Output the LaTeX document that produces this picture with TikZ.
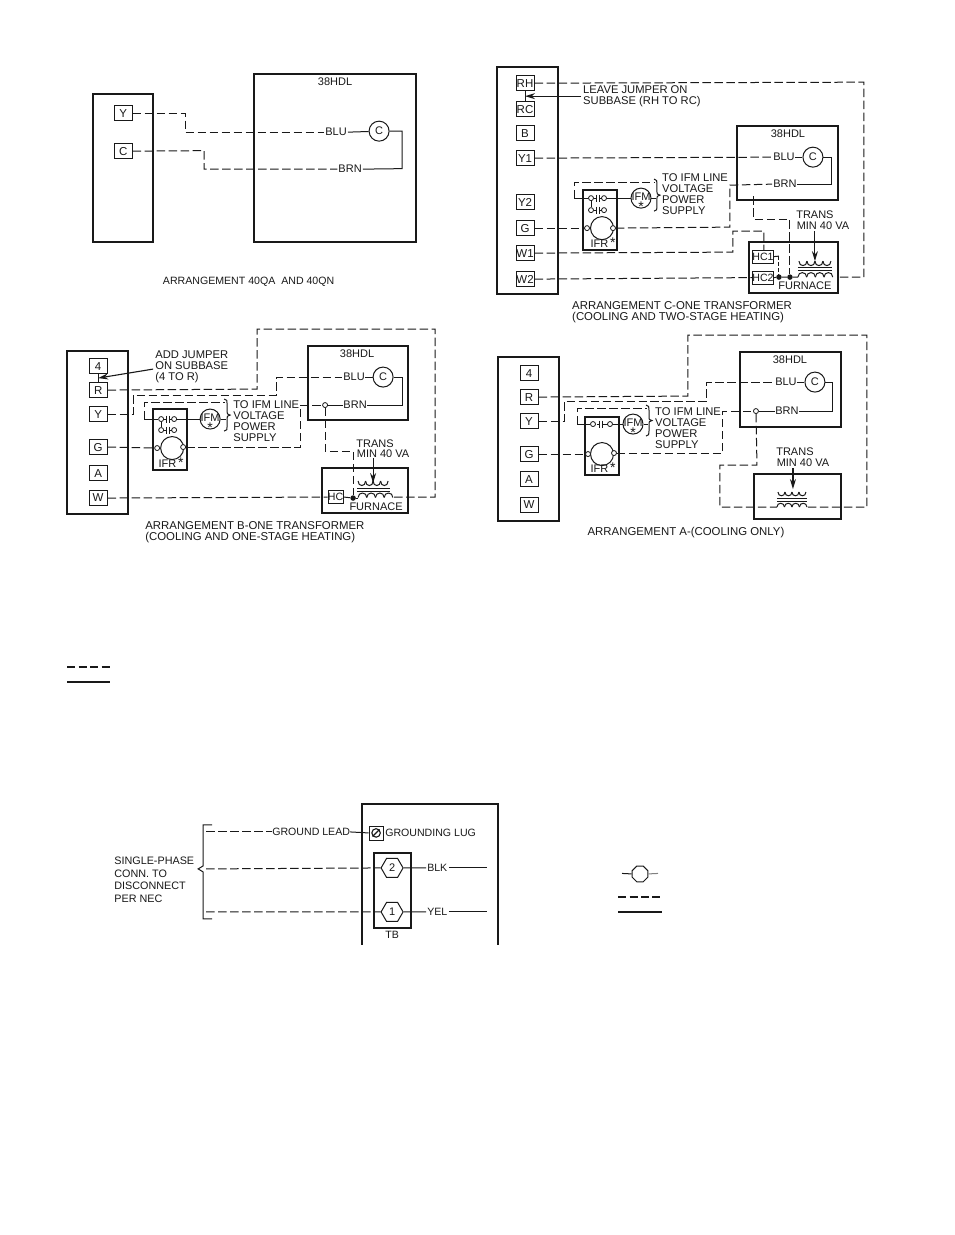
\documentclass[tikz,border=0pt]{standalone}
\usepackage{fontspec}
\setmainfont{Liberation Sans}
\usetikzlibrary{arrows.meta,shapes.geometric}
\definecolor{ink}{gray}{0.1}
\newcommand{\capf}{\fontsize{11.4}{11}\selectfont}
\newcommand{\notef}{\fontsize{11.2}{11}\selectfont}
\tikzset{
  every node/.style={inner sep=0pt,text=ink,font=\fontsize{11}{12}\selectfont},
  every path/.style={draw=ink},
  heavybox/.style={draw=ink,line width=1.9pt,fill=none},
  term/.style={draw=ink,line width=1pt,minimum width=18pt,minimum height=15pt,font=\fontsize{11.5}{12}\selectfont},
  smallterm/.style={draw=ink,line width=.8pt,minimum height=13pt,font=\fontsize{10.6}{12}\selectfont},
  wire/.style={line width=1pt,dash pattern=on 8.5pt off 3.5pt},
  solidwire/.style={line width=1pt},
  lab/.style={anchor=west},
  motor/.style={circle,draw=ink,line width=1pt,minimum size=20pt},
  opn/.style={circle,draw=ink,fill=white,line width=.8pt,minimum size=5pt},
  dotn/.style={circle,fill=ink,minimum size=5.5pt},
  tip/.style={line width=1.1pt,-{Stealth[length=10pt,width=6pt]}},
  hexn/.style={regular polygon,regular polygon sides=6,shape border rotate=0,draw=ink,line width=1pt,minimum size=22pt},
}
\newcommand{\astk}{\fontsize{14}{12}\selectfont *}
\newcommand{\humps}[5]{% x0, y, hump width, count, height (neg = up)
  \foreach \i in {1,...,#4}{
    \pgfmathsetmacro{\xa}{#1+(\i-1)*#3}
    \pgfmathsetmacro{\xb}{#1+\i*#3}
    \draw[solidwire] (\xa,#2) .. controls (\xa,#2+#5) and (\xb,#2+#5) .. (\xb,#2);
  }}
\newcommand{\rbr}[3]{% x, y0, y1
  \pgfmathsetmacro{\ym}{(#2+#3)/2}
  \draw[solidwire] (#1-3,#2) .. controls (#1,#2) and (#1,#2+2) .. (#1,#2+5) -- (#1,\ym-3) .. controls (#1,\ym-1) .. (#1+3,\ym) .. controls (#1,\ym+1) .. (#1,\ym+3) -- (#1,#3-5) .. controls (#1,#3-2) and (#1,#3) .. (#1-3,#3);}
\newcommand{\bars}[3]{% x left, x right, y
  \draw[line width=1pt] (#1+2.5,#3) -- (#1+5.5,#3);
  \draw[line width=1pt] (#1+5.5,#3-3.5) -- (#1+5.5,#3+3.5);
  \draw[line width=1pt] (#1+8,#3-3.5) -- (#1+8,#3+3.5);
  \draw[line width=1pt] (#1+8,#3) -- (#2-2.5,#3);}
\begin{document}
\begin{tikzpicture}[x=1pt,y=-1pt]
\useasboundingbox (0,0) rectangle (954,1235);
\fill[white] (0,0) rectangle (954,1235);

%% ---------- 40QA / 40QN
\draw[heavybox] (93,94) rectangle (153,242);
\draw[heavybox] (254,74) rectangle (416,242);
\node[term] (aY) at (123,113) {Y};
\node[term] (aC) at (123,151) {C};
\node (aH) at (335,82) {38HDL};
\node (aBLU) at (336,132) {BLU};
\node[motor] (aM) at (379,131) {C};
\node (aBRN) at (350,169) {BRN};
\node[font=\fontsize{10.6}{12}\selectfont] (aCap) at (248.5,282) {ARRANGEMENT 40QA\ \ AND 40QN};
\draw[wire] (aY.east) -- (185,113) -- (185,132) -- ([xshift=-1pt]aBLU.west);
\draw[wire] (aC.east) -- (204,150.5) -- (204,169) -- ([xshift=-1pt]aBRN.west);
\draw[solidwire] ([xshift=1pt]aBLU.east) -- (aM);
\draw[solidwire] (aM.east) -- (402,131) -- (402,168.5) -- ([xshift=1pt]aBRN.east);

%% ---------- Arrangement B
\draw[heavybox] (67,351) rectangle (128,514);
\draw[heavybox] (308,346) rectangle (408,420);
\draw[heavybox] (322,468) rectangle (408,513);
\draw[heavybox] (153,409) rectangle (187,470);
\node[term] (b4) at (98,366) {4};
\node[term] (bR) at (98,390) {R};
\node[term] (bY) at (98,414) {Y};
\node[term] (bG) at (98,447) {G};
\node[term] (bA) at (98,473) {A};
\node[term] (bW) at (98,498) {W};
\draw[solidwire] (b4.south) -- (bR.north);
\node[lab,align=left,font=\notef] (bJ) at (155,367) {ADD JUMPER\\ON SUBBASE\\(4 TO R)};
\draw[tip] (153,369) -- (98,378);
\node (bH) at (357,354) {38HDL};
\node (bBLU) at (354,377) {BLU};
\node[motor] (bM) at (383,377) {C};
\node (bBRN) at (355,405) {BRN};
\node[opn] (bO) at (325,405) {};
\draw[solidwire] (bBLU.east) -- (bM);
\draw[solidwire] (bM.east) -- (402,377) -- (402,405) -- (bBRN.east);
\draw[solidwire] (bO) -- (bBRN.west);
\draw[wire] (bY.east) -- (133,414) -- (133,395) -- (276,395) -- (276,377) -- ([xshift=-1pt]bBLU.west);
\draw[wire] (bR.east) -- (257,389) -- (257,329) -- (435,329) -- (435,497) -- (393,497);
\node[motor,minimum size=23pt] (bK) at (172,448) {};
\node[opn] (bK1) at (157,448) {};
\node[opn] (bK2) at (183,447) {};
\draw[wire] (bG.east) -- (bK1);
\draw[wire] (bK2) -- (300,447) -- (300,405) -- (bO);
\node (bI) at (171,463) {IFR\,\astk};
\node[opn] (bC1) at (161,419) {};
\node[opn] (bC2) at (174,419) {};
\node[opn] (bC3) at (161,430) {};
\node[opn] (bC4) at (174,430) {};
\bars{161}{174}{419}\bars{161}{174}{430}
\draw[solidwire] (bC1) -- (bC3);
\node[motor] (bF) at (210,419) {};
\node at (210,418) {IFM};
\node at (210,428) {\astk};
\draw[solidwire] (144,419) -- (bC1);
\draw[solidwire] (bC2) -- (bF);
\draw[solidwire] (bF.east) -- (226,419);
\draw[wire] (144,419) -- (144,402) -- (225,402);
\rbr{227}{399}{431}
\node[lab,align=left,font=\notef] (bT) at (233,421.5) {TO IFM LINE\\VOLTAGE\\POWER\\SUPPLY};
\node[smallterm,minimum width=15pt] (bHC) at (335.5,497) {HC};
\node[dotn] (bD) at (353,498) {};
\draw[wire] (bW.east) -- (bHC.west);
\draw[solidwire] (bHC.east) -- (bD);
\draw[solidwire] (bD) -- (358,498);
\draw[wire] (bO) -- (325,451) -- (353,451) -- (bD);
\humps{358}{497.5}{8.7}{4}{-6}
\draw[solidwire] (357,488) -- (390,488) (357,491) -- (390,491);
\humps{358}{481}{7.5}{4}{6}
\node (bTR) at (375,444) {TRANS};
\node (bMIN) at (383,454) {MIN 40 VA};
\draw[tip] (373,458) -- (373,483);
\node (bFU) at (376,507) {FURNACE};
\node[lab,align=left,font=\capf] (bCap) at (145,532) {ARRANGEMENT B-ONE TRANSFORMER\\(COOLING AND ONE-STAGE HEATING)};

%% ---------- Arrangement C
\draw[heavybox] (497,67) rectangle (558,294);
\draw[heavybox] (737,126) rectangle (838,200);
\draw[heavybox] (749,242) rectangle (838,293);
\draw[heavybox] (583,190) rectangle (617,250);
\node[term] (cRH) at (525,83) {RH};
\node[term] (cRC) at (525,109) {RC};
\node[term] (cB) at (525,133) {B};
\node[term] (cY1) at (525,158) {Y1};
\node[term] (cY2) at (525,202) {Y2};
\node[term] (cG) at (525,228) {G};
\node[term] (cW1) at (525,253) {W1};
\node[term] (cW2) at (525,279) {W2};
\draw[solidwire] (cRH.south) -- (cRC.north);
\node[lab,align=left,font=\notef] (cJ) at (583,96.5) {LEAVE JUMPER ON\\SUBBASE (RH TO RC)};
\draw[tip] (581,96) -- (525,96);
\node (cH) at (788,134) {38HDL};
\node (cBLU) at (784,157) {BLU};
\node[motor] (cM) at (813,157) {C};
\node (cBRN) at (785,184) {BRN};
\draw[solidwire] (cBLU.east) -- (cM);
\draw[solidwire] (cM.east) -- (832,157) -- (832,184) -- (cBRN.east);
\draw[wire] (cY1.east) -- ([xshift=-1pt]cBLU.west);
\draw[wire] (cRH.east) -- (864,82) -- (864,277) -- (837,277);
\node[motor,minimum size=23pt] (cK) at (602,228) {};
\node[opn] (cK1) at (587,228) {};
\node[opn] (cK2) at (613,228) {};
\draw[wire] (cG.east) -- (cK1);
\draw[wire] (cK2) -- (730,227) -- (730,185) -- ([xshift=-1pt]cBRN.west);
\node (cI) at (603,243) {IFR\,\astk};
\node[opn] (cC1) at (591,198) {};
\node[opn] (cC2) at (604,198) {};
\node[opn] (cC3) at (591,210) {};
\node[opn] (cC4) at (604,210) {};
\bars{591}{604}{198}\bars{591}{604}{210}
\draw[solidwire] (cC1) -- (cC3);
\node[motor] (cF) at (641,198) {};
\node at (641,197) {IFM};
\node at (641,207) {\astk};
\draw[solidwire] (574,198) -- (cC1);
\draw[solidwire] (cC2) -- (cF);
\draw[solidwire] (cF.east) -- (656,198);
\draw[wire] (574,198) -- (574,182) -- (655,182);
\rbr{657}{179}{211}
\node[lab,align=left,font=\notef] (cT) at (662,194) {TO IFM LINE\\VOLTAGE\\POWER\\SUPPLY};
\node[smallterm,minimum width=20pt] (cHC1) at (763,256.5) {HC1};
\node[smallterm,minimum width=20pt] (cHC2) at (763,277.5) {HC2};
\node[dotn] (cD1) at (779,277) {};
\node[dotn] (cD2) at (790,277) {};
\draw[wire] (cW2.east) -- (cHC2.west);
\draw[wire] (cW1.east) -- (733,252) -- (733,231) -- (764,231) -- (764,250);
\draw[solidwire] (cHC1.east) -- (779,256);
\draw[wire,dash pattern=on 4pt off 2pt] (779,256) -- (cD1);
\draw[solidwire] (cHC2.east) -- (cD1) -- (cD2) -- (798,277);
\draw[wire] (754,196) -- (754,219) -- (790,219) -- (cD2);
\humps{798}{277}{8.7}{4}{-6}
\draw[solidwire] (798,267) -- (832,267) (798,270) -- (832,270);
\humps{799}{261}{8}{4}{6}
\node (cTR) at (815,215) {TRANS};
\node (cMIN) at (823,226) {MIN 40 VA};
\draw[tip] (815,231) -- (815,261);
\node (cFU) at (805,286) {FURNACE};
\node[lab,align=left,font=\capf] (cCap) at (572,312) {ARRANGEMENT C-ONE TRANSFORMER\\(COOLING AND TWO-STAGE HEATING)};

%% ---------- Arrangement A
\draw[heavybox] (498,357) rectangle (559,521);
\draw[heavybox] (740,352) rectangle (841,427);
\draw[heavybox] (754,474) rectangle (841,519);
\draw[heavybox] (585,417) rectangle (619,475);
\node[term] (d4) at (529,373) {4};
\node[term] (dR) at (529,397) {R};
\node[term] (dY) at (529,421) {Y};
\node[term] (dG) at (529,454) {G};
\node[term] (dA) at (529,479) {A};
\node[term] (dW) at (529,505) {W};
\node (dH) at (790,360) {38HDL};
\node (dBLU) at (786,382) {BLU};
\node[motor] (dM) at (815,382) {C};
\node (dBRN) at (787,411) {BRN};
\node[opn] (dO) at (756,411) {};
\draw[solidwire] (dBLU.east) -- (dM);
\draw[solidwire] (dM.east) -- (833,382) -- (833,411) -- (dBRN.east);
\draw[solidwire] (dO) -- (dBRN.west);
\draw[wire] (dY.east) -- (564,421) -- (564,401) -- (707,401) -- (707,382) -- ([xshift=-1pt]dBLU.west);
\draw[wire] (dR.east) -- (688,396) -- (688,335) -- (867,335) -- (867,507) -- (807,507);
\node[motor,minimum size=23pt] (dK) at (602,454) {};
\node[opn] (dK1) at (588,454) {};
\node[opn] (dK2) at (614,453) {};
\draw[wire] (dG.east) -- (dK1);
\draw[wire] (dK2) -- (723,453) -- (723,411) -- (dO);
\node (dI) at (603,468) {IFR\,\astk};
\node[opn] (dC1) at (593,424) {};
\node[opn] (dC2) at (610,424) {};
\bars{594}{610}{424}
\node[motor] (dF) at (633,424) {};
\node at (633,423) {IFM};
\node at (633,433) {\astk};
\draw[solidwire] (577,424) -- (dC1);
\draw[solidwire] (dC2) -- (dF);
\draw[solidwire] (dF.east) -- (648,424);
\draw[wire] (577,424) -- (577,408) -- (647,408);
\rbr{649}{405}{436}
\node[lab,align=left,font=\notef] (dT) at (655,428.5) {TO IFM LINE\\VOLTAGE\\POWER\\SUPPLY};
\draw[wire] (dO) -- (757,465) -- (720,465) -- (720,507) -- (777,507);
\humps{777}{507}{7.5}{4}{-5}
\draw[solidwire] (777,498) -- (807,498) (777,501) -- (807,501);
\humps{778}{492}{7}{4}{5}
\node (dTR) at (795,452) {TRANS};
\node (dMIN) at (803,463) {MIN 40 VA};
\draw[tip] (793,468) -- (793,489);
\node[font=\capf] (dCap) at (686,533) {ARRANGEMENT A-(COOLING ONLY)};

%% ---------- Legend, left
\draw[line width=1.7pt,dash pattern=on 8pt off 3.5pt] (67,667) -- (110,667);
\draw[line width=1.7pt] (67,682) -- (110,682);

%% ---------- Power wiring
\draw[line width=1.4pt] (362,945) -- (362,804) -- (498,804) -- (498,945);
\draw[heavybox] (374,853) rectangle (411,928);
\node[draw=ink,line width=.8pt,minimum size=14pt] (eL) at (376,833) {};
\node[circle,draw=ink,line width=1.1pt,minimum size=8.5pt] (eLc) at (eL) {};
\draw[line width=1.1pt] ([xshift=-3.5pt,yshift=-3.5pt]eL.center) -- ([xshift=3.5pt,yshift=3.5pt]eL.center);
\node[lab,font=\fontsize{10.6}{12}\selectfont] (eLL) at (385,833) {GROUNDING LUG};
\node[lab,font=\fontsize{10.6}{12}\selectfont] (eGL) at (272,832) {GROUND LEAD};
\node[hexn] (e2) at (392,868) {2};
\node[hexn] (e1) at (392,912) {1};
\node[font=\fontsize{10.6}{12}\selectfont] (eTB) at (392,935) {TB};
\node[lab,font=\fontsize{10.6}{12}\selectfont] (eB) at (427,868) {BLK};
\node[lab,font=\fontsize{10.6}{12}\selectfont] (eY) at (427,912) {YEL};
\coordinate (eG0) at (206,832);
\coordinate (e20) at (206,869);
\coordinate (e10) at (206,912);
\draw[wire] (eG0) -- (eGL.west);
\draw[solidwire] (eGL.east) -- (eL.west);
\draw[wire] (e20) -- (e2.west);
\draw[wire] (e10) -- (e1.west);
\draw[solidwire] (e2.east) -- ([xshift=-1pt]eB.west);
\draw[solidwire] (e1.east) -- ([xshift=-1pt]eY.west);
\draw[solidwire] ([xshift=1.5pt]eB.east) -- (487,868);
\draw[solidwire] ([xshift=1.5pt]eY.east) -- (487,912);
\draw[solidwire] (212,825) -- (203,825) -- (203,866) -- (198,869) -- (203,872) -- (203,919) -- (212,919);
\node[lab,align=left,font=\fontsize{10.8}{12.6}\selectfont] (eS) at (114,880) {SINGLE-PHASE\\CONN. TO\\DISCONNECT\\PER NEC};

%% ---------- Legend, right
\node[regular polygon,regular polygon sides=8,draw=ink,line width=1pt,minimum size=17pt] (fO) at (640,874) {};
\draw[solidwire] (622,873.5) -- (fO.west);
\draw[solidwire,draw=gray] (fO.east) -- (658,873.5);
\draw[line width=1.8pt,dash pattern=on 8pt off 3.5pt] (618,897) -- (661,897);
\draw[line width=1.8pt] (618,912) -- (662,912);
\end{tikzpicture}
\end{document}
